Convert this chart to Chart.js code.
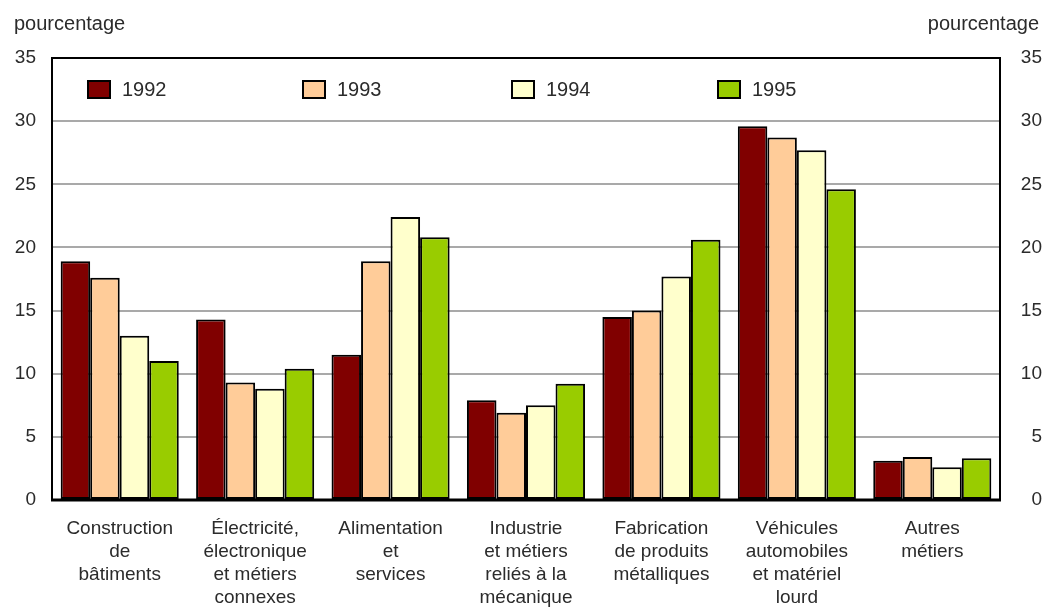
<!DOCTYPE html>
<html>
<head>
<meta charset="utf-8">
<script src="https://cdn.jsdelivr.net/npm/chart.js@4.4.1/dist/chart.umd.min.js"></script>
<style>
  html, body { margin: 0; padding: 0; background: #ffffff; }
  #wrap { width: 1054px; height: 614px; }
</style>
</head>
<body>
<div id="wrap"><canvas id="c" width="1054" height="614"></canvas></div>
<script>
const categories = [
  ["Construction", "de", "bâtiments"],
  ["Électricité,", "électronique", "et métiers", "connexes"],
  ["Alimentation", "et", "services"],
  ["Industrie", "et métiers", "reliés à la", "mécanique"],
  ["Fabrication", "de produits", "métalliques"],
  ["Véhicules", "automobiles", "et matériel", "lourd"],
  ["Autres", "métiers"]
];
const years = ["1992", "1993", "1994", "1995"];
const values1992 = [18.9, 14.3, 11.5, 7.9, 14.5, 29.6, 3.1];
const values1993 = [17.6, 9.3, 18.9, 6.9, 15.0, 28.7, 3.4];
const values1994 = [13.0, 8.8, 22.4, 7.5, 17.7, 27.7, 2.6];
const values1995 = [11.0, 10.4, 20.8, 9.2, 20.6, 24.6, 3.3];
const yTicks = [0, 5, 10, 15, 20, 25, 30, 35];
const axisTitle = "pourcentage";

const colors = ["#800000", "#FFCC99", "#FFFFCC", "#99CC00"];
const FONT = "'Liberation Sans', Arial, sans-serif";
const TEXT = "#2b2b2b";

const seriesValues = [values1992, values1993, values1994, values1995];
const datasets = years.map((y, i) => ({
  label: y,
  data: seriesValues[i],
  backgroundColor: colors[i],
  borderColor: "#000000",
  borderWidth: 2,
  borderSkipped: false,
  categoryPercentage: 0.872,
  barPercentage: 1.0
}));

const framePlugin = {
  id: "frame",
  afterDatasetsDraw(chart) {
    const ctx = chart.ctx, a = chart.chartArea;
    ctx.save();
    ctx.strokeStyle = "#000";
    ctx.lineWidth = 2;
    ctx.beginPath();
    ctx.moveTo(a.left, a.bottom);
    ctx.lineTo(a.left, a.top);
    ctx.lineTo(a.right, a.top);
    ctx.lineTo(a.right, a.bottom);
    ctx.stroke();
    ctx.lineWidth = 3;
    ctx.beginPath();
    ctx.moveTo(a.left - 1, a.bottom);
    ctx.lineTo(a.right + 1, a.bottom);
    ctx.stroke();
    ctx.restore();
  },
  afterDraw(chart) {
    const ctx = chart.ctx, a = chart.chartArea;
    ctx.save();
    ctx.fillStyle = TEXT;
    ctx.font = "20px " + FONT;
    ctx.textBaseline = "alphabetic";
    ctx.textAlign = "left";
    ctx.fillText(axisTitle, 14, 30);
    ctx.textAlign = "right";
    ctx.fillText(axisTitle, 1039, 30);
    const offsets = [36, 251, 460, 666];
    ctx.font = "20px " + FONT;
    ctx.textAlign = "left";
    ctx.textBaseline = "middle";
    chart.data.datasets.forEach((ds, i) => {
      const x = a.left + offsets[i];
      const y = a.top + 23;
      ctx.fillStyle = ds.backgroundColor;
      ctx.fillRect(x, y, 22, 17);
      ctx.strokeStyle = "#000";
      ctx.lineWidth = 2;
      ctx.strokeRect(x, y, 22, 17);
      ctx.fillStyle = TEXT;
      ctx.fillText(ds.label, x + 34, y + 9.5);
    });
    ctx.restore();
  }
};

new Chart(document.getElementById("c"), {
  type: "bar",
  data: { labels: categories, datasets: datasets },
  options: {
    responsive: false,
    animation: false,
    layout: { padding: { top: 58, left: 0, right: 12, bottom: 0 } },
    plugins: { legend: { display: false }, tooltip: { enabled: false } },
    scales: {
      x: {
        grid: { display: false, drawTicks: false },
        border: { display: false },
        ticks: {
          color: TEXT,
          font: { family: FONT, size: 19, lineHeight: 1.22 },
          padding: 17,
          maxRotation: 0,
          autoSkip: false
        },
        afterFit(s) { s.height = 114; }
      },
      y: {
        position: "left",
        min: 0, max: 35,
        afterBuildTicks(s) { s.ticks = yTicks.map(v => ({ value: v })); },
        grid: { color: "#a9a9a9", lineWidth: 2, drawTicks: false },
        border: { display: false },
        ticks: {
          color: TEXT,
          font: { family: FONT, size: 19 },
          padding: 16
        },
        afterFit(s) { s.width = 52; }
      },
      y2: {
        position: "right",
        min: 0, max: 35,
        afterBuildTicks(s) { s.ticks = yTicks.map(v => ({ value: v })); },
        grid: { display: false, drawTicks: false },
        border: { display: false },
        ticks: {
          color: TEXT,
          font: { family: FONT, size: 19 },
          padding: 10,
          crossAlign: "far"
        },
        afterFit(s) { s.width = 42; }
      }
    }
  },
  plugins: [framePlugin]
});
</script>
</body>
</html>
